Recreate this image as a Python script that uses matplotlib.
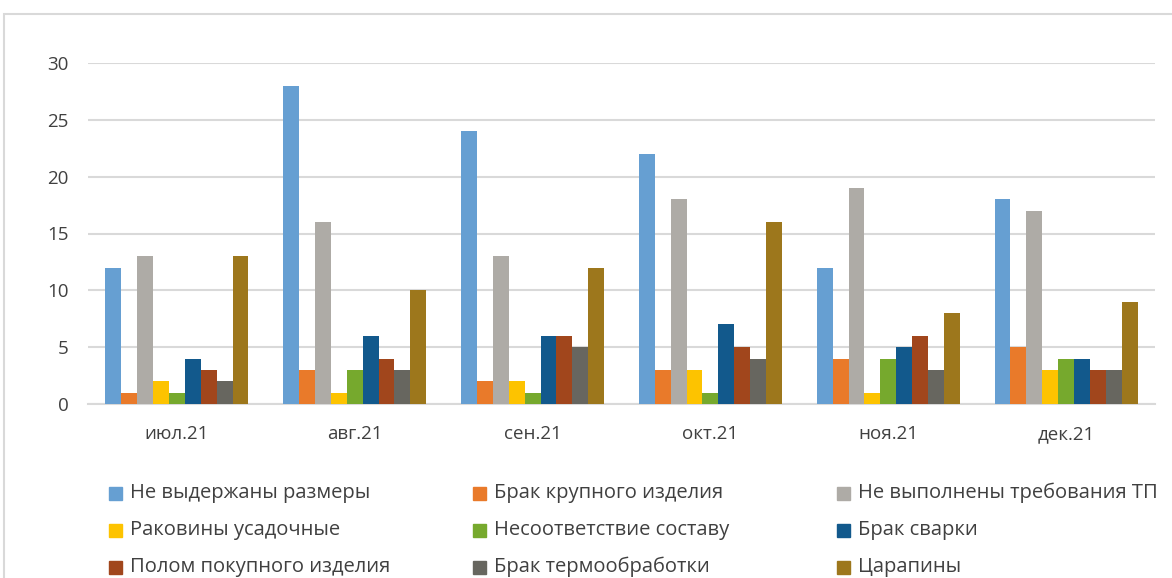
import matplotlib
matplotlib.use("Agg")
import matplotlib.pyplot as plt
from matplotlib.patches import Rectangle
import numpy as np

months = ["июл.21", "авг.21", "сен.21", "окт.21", "ноя.21", "дек.21"]
series = [
    "Не выдержаны размеры",
    "Брак крупного изделия",
    "Не выполнены требования ТП",
    "Раковины усадочные",
    "Несоответствие составу",
    "Брак сварки",
    "Полом покупного изделия",
    "Брак термообработки",
    "Царапины",
]
razmery = [12, 28, 24, 22, 12, 18]
krupnoe = [1, 3, 2, 3, 4, 5]
trebovaniya_tp = [13, 16, 13, 18, 19, 17]
rakoviny = [2, 1, 2, 3, 1, 3]
sostav = [1, 3, 1, 1, 4, 4]
svarka = [4, 6, 6, 7, 5, 4]
polom = [3, 4, 6, 5, 6, 3]
termo = [2, 3, 5, 4, 3, 3]
carapiny = [13, 10, 12, 16, 8, 9]
values = [razmery, krupnoe, trebovaniya_tp, rakoviny, sostav, svarka, polom, termo, carapiny]

colors = ["#669FD2", "#E97A2A", "#AEABA6", "#FDC300", "#76A92D",
          "#12598C", "#A1461C", "#67665F", "#9D771C"]

plt.rcParams['font.family'] = ['Open Sans', 'DejaVu Sans']
W, H = 1172, 578
fig = plt.figure(figsize=(W / 100, H / 100), dpi=100)

# outer chart border (cut at bottom/right in the reference)
fig.patches.append(Rectangle((4 / W, -0.1), 1.2, (H - 14) / H + 0.1, transform=fig.transFigure,
                             fill=False, edgecolor="#D9D9D9", linewidth=1.5))

ax = fig.add_axes([88 / W, (H - 404) / H, (1155 - 88) / W, 341 / H])
x = np.arange(len(months))
n = len(series)
bw = 0.804 / n
for i, (vals, c) in enumerate(zip(values, colors)):
    ax.bar(x + (i - (n - 1) / 2) * bw, vals, width=bw, color=c, zorder=3)

ax.set_xlim(-0.5, len(months) - 0.5)
ax.set_ylim(0, 30)
ax.set_yticks(range(0, 31, 5))
ax.set_xticks(x)
ax.set_xticklabels(months)
ax.yaxis.grid(True, color="#D9D9D9", linewidth=1.5, zorder=0)
for s in ["top", "right", "left"]:
    ax.spines[s].set_visible(False)
ax.spines["bottom"].set_color("#D9D9D9")
ax.spines["bottom"].set_linewidth(1.5)
ax.tick_params(axis="both", length=0, labelsize=13.5, labelcolor="#404040")
ax.tick_params(axis="y", pad=14)
ax.tick_params(axis="x", pad=15)

# legend, three columns filled row by row
for i, (name, c) in enumerate(zip(series, colors)):
    row, col = divmod(i, 3)
    px = 109 + col * 364
    py = 493 + row * 37
    fig.patches.append(Rectangle((px / W, (H - py - 6.5) / H), 13 / W, 13 / H,
                                 transform=fig.transFigure, color=c))
    fig.text((px + 21) / W, (H - py) / H, name, fontsize=14.5, color="#404040",
             va="center", ha="left")

fig.savefig("out.png", dpi=100)
